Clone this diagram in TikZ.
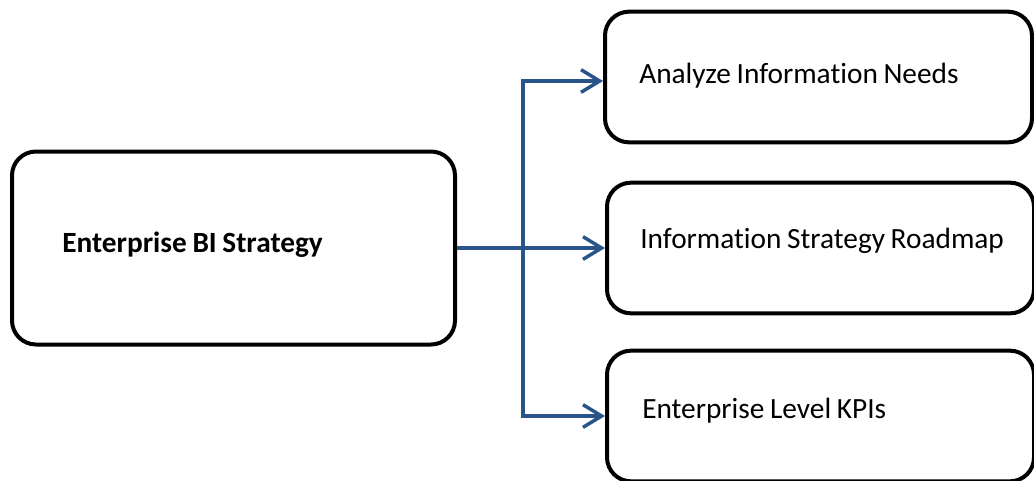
\documentclass[tikz,border=0pt]{standalone}
\usepackage{fontspec}
\setmainfont{Carlito}[Ligatures=NoCommon, WordSpace=0.85]
\usetikzlibrary{arrows.meta}
\definecolor{linkblue}{RGB}{41,84,138}
\begin{document}
\begin{tikzpicture}[x=0.75pt, y=-0.75pt]

      \tikzset{roundbox/.style={draw, line width=3pt, rounded corners=18pt},
               stagebox/.style={roundbox, minimum width=320.25pt, minimum height=98pt},
               boxtext/.style={anchor=base west, inner sep=0pt, font=\fontsize{22}{26}\selectfont},
               link/.style={draw=linkblue, line width=2.6pt,
                 -{Straight Barb[length=14pt, width=17pt, line width=2.6pt]}}}
%% Frame
      	\path[use as bounding box] (0,0) rectangle (1034,480);
      	\clip (0,0) rectangle (1034,480);
%% Boxes
      	\node[roundbox, minimum width=332.25pt, minimum height=144.75pt] (strategy) at (233.5,248) {};
      	\node[stagebox] (needs) at (818.5,77) {};
      	\node[stagebox] (roadmap) at (820.5,248) {};
      	\node[stagebox] (kpis) at (820.5,416) {};
%% Labels
      	\node[boxtext, font=\fontsize{22}{26}\selectfont\bfseries] (strategytext) at (62,252) {Enterprise BI Strategy};
      	\node[boxtext] (needstext) at (639,83) {Analyze Information Needs};
      	\node[boxtext] (roadmaptext) at (640,248) {Information Strategy Roadmap};
      	\node[boxtext] (kpistext) at (642,418) {Enterprise Level KPIs};
%Edges
      	\coordinate (fork) at (523,248);
		\path[link] (strategy.east) -- (roadmap.west);
		\path[link] (fork) |- ([yshift=-3]needs.west);
		\path[link] (fork) |- (kpis.west);

	\end{tikzpicture}
\end{document}
